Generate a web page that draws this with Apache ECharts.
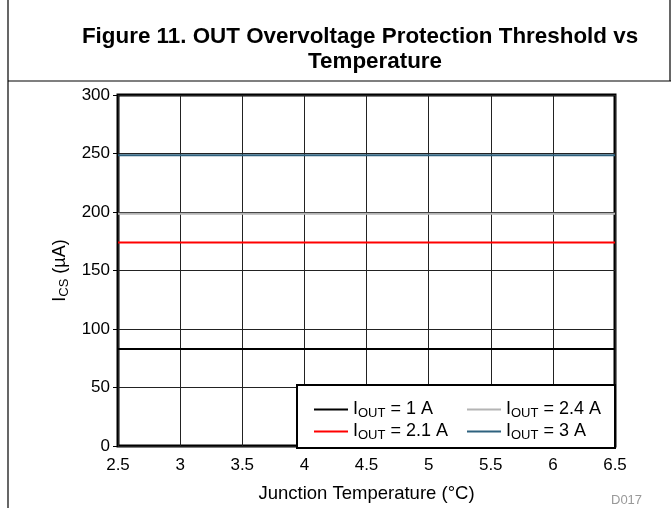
<!DOCTYPE html>
<html><head><meta charset="utf-8">
<script src="https://cdn.jsdelivr.net/npm/echarts@6/dist/echarts.min.js"></script>
<style>html,body{margin:0;padding:0;background:#fff}#c{width:671px;height:508px}</style>
</head><body><div id="c"></div>
<script>
const temps = [2.5, 3, 3.5, 4, 4.5, 5, 5.5, 6, 6.5];
const iout1 = [83, 83, 83, 83, 83, 83, 83, 83, 83];
const iout21 = [174, 174, 174, 174, 174, 174, 174, 174, 174];
const iout24 = [198.5, 198.5, 198.5, 198.5, 198.5, 198.5, 198.5, 198.5, 198.5];
const iout3 = [248.5, 248.5, 248.5, 248.5, 248.5, 248.5, 248.5, 248.5, 248.5];
const seriesNames = ['1 A', '2.1 A', '2.4 A', '3 A'];
const colors = ['#000000', '#ff0000', '#b4b4b4', '#2f627f'];
const seriesData = [iout1, iout21, iout24, iout3];
const titleLines = ['Figure 11. OUT Overvoltage Protection Threshold vs', 'Temperature'];
const font = 'Liberation Sans, Arial, sans-serif';

const chart = echarts.init(document.getElementById('c'));
function richFor(sz) {
  return {
    n: {fontSize: sz, fontFamily: font, color: '#000', lineHeight: 21},
    s: {fontSize: Math.round(sz * 0.72), fontFamily: font, color: '#000', verticalAlign: 'bottom', lineHeight: 21, padding: [9, 0, 0, 0]}
  };
}
function mkLegend(names, left) {
  return {
    orient: 'vertical', left: left, top: 393, itemGap: 0,
    itemWidth: 34, itemHeight: 2, icon: 'rect',
    data: names,
    formatter: function (n) { return '{n|I}{s|OUT}{n| = ' + n + '}'; },
    textStyle: {rich: richFor(18), fontFamily: font, fontSize: 18},
    selectedMode: false
  };
}
chart.setOption({
  animation: false,
  grid: {left: 118, right: 56, top: 95, bottom: 60, show: true, borderColor: '#000', borderWidth: 3, backgroundColor: 'transparent'},
  legend: [mkLegend([seriesNames[0], seriesNames[1]], 309), mkLegend([seriesNames[2], seriesNames[3]], 462)],
  xAxis: {
    type: 'value', min: 2.5, max: 6.5, interval: 0.5,
    name: 'Junction Temperature (°C)', nameLocation: 'middle', nameGap: 38,
    nameTextStyle: {fontFamily: font, fontSize: 18.5, color: '#000'},
    axisLine: {show: false}, axisTick: {show: false},
    axisLabel: {fontFamily: font, fontSize: 17, color: '#000', margin: 11},
    splitLine: {show: true, lineStyle: {color: '#222', width: 1}}
  },
  yAxis: {
    type: 'value', min: 0, max: 300, interval: 50,
    name: '{n|I}{s|CS}{n| (µA)}', nameLocation: 'middle', nameGap: 45,
    nameTextStyle: {rich: richFor(18), fontFamily: font, fontSize: 18, color: '#000'},
    axisLine: {show: false},
    axisTick: {show: true, inside: false, length: 5, lineStyle: {color: '#000'}},
    axisLabel: {fontFamily: font, fontSize: 17, color: '#000', margin: 8},
    splitLine: {show: true, lineStyle: {color: '#222', width: 1}}
  },
  graphic: [
    {type: 'rect', shape: {x: 297, y: 385, width: 318, height: 63}, style: {fill: '#fff', stroke: '#000', lineWidth: 2}, z: 1},
    {type: 'line', shape: {x1: 8, y1: 0, x2: 8, y2: 508}, style: {stroke: '#000', lineWidth: 1.2}},
    {type: 'line', shape: {x1: 670, y1: 0, x2: 670, y2: 81}, style: {stroke: '#000', lineWidth: 1.2}},
    {type: 'line', shape: {x1: 8, y1: 81, x2: 671, y2: 81}, style: {stroke: '#000', lineWidth: 1.2}},
    {type: 'text', x: 360, y: 37, style: {text: titleLines[0], fill: '#000', fontFamily: font, fontSize: 22.4, fontWeight: 'bold', align: 'center', verticalAlign: 'middle'}},
    {type: 'text', x: 375, y: 62, style: {text: titleLines[1], fill: '#000', fontFamily: font, fontSize: 22.4, fontWeight: 'bold', align: 'center', verticalAlign: 'middle'}},
    {type: 'text', x: 611, y: 500, style: {text: 'D017', fill: '#999', fontFamily: font, fontSize: 13, verticalAlign: 'middle'}}
  ],
  series: seriesData.map(function (d, i) {
    return {
      name: seriesNames[i], type: 'line', symbol: 'none', z: 0,
      data: temps.map(function (t, j) { return [t, d[j]]; }),
      lineStyle: {color: colors[i], width: 2},
      itemStyle: {color: colors[i]}
    };
  })
});
</script></body></html>
